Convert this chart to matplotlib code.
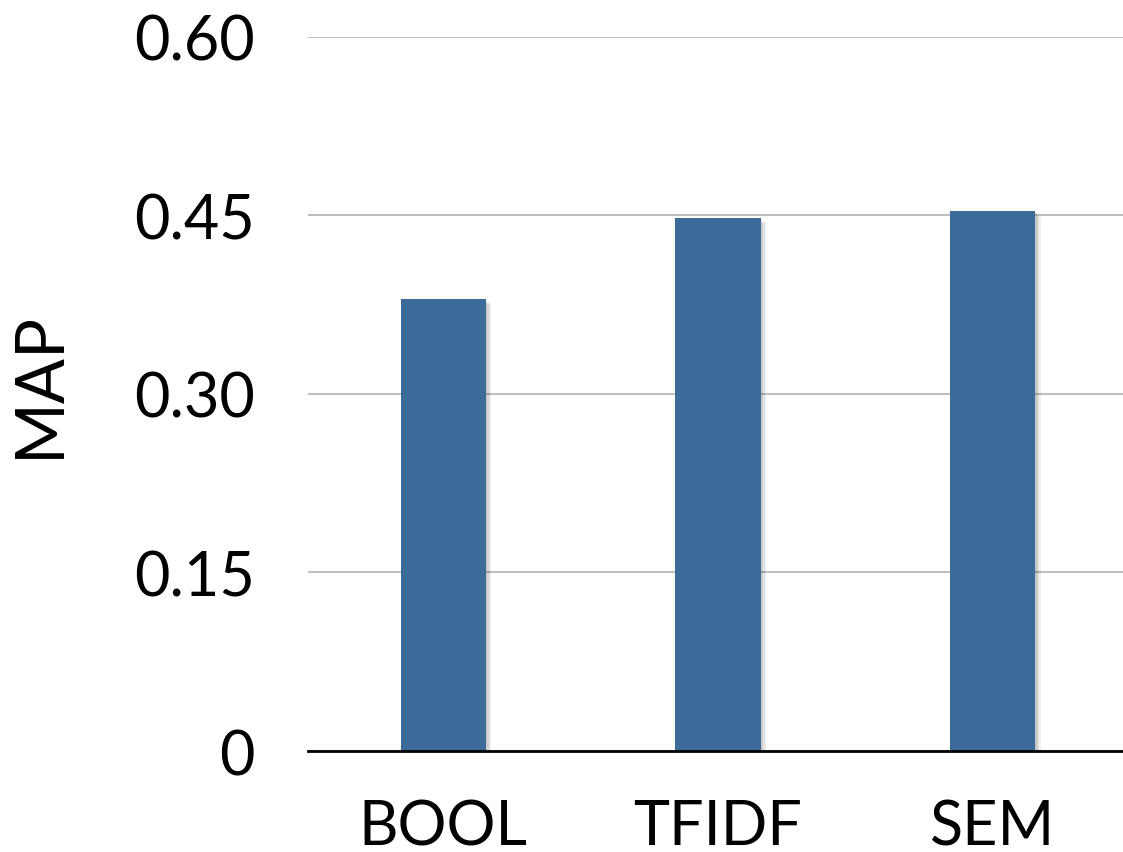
import numpy as np
import matplotlib
matplotlib.use("Agg")
from matplotlib import pyplot as plt
import matplotlib.patheffects as pe

categories = ["BOOL", "TFIDF", "SEM"]
map_values = [0.380, 0.448, 0.454]
yticks = [0, 0.15, 0.30, 0.45, 0.60]
ytick_labels = ["0", "0.15", "0.30", "0.45", "0.60"]

plt.rcParams['font.family'] = ['Lato', 'DejaVu Sans']

fig = plt.figure(figsize=(11.23, 8.53), dpi=100)
ax = fig.add_axes([0.274, 0.1184, 0.726, 0.8371])

x = np.arange(len(categories))
# soft shadow: a few stacked offset shadows
shadow = [pe.SimplePatchShadow(offset=(d, -d), shadow_rgbFace='black', alpha=0.06) for d in (1, 2, 3, 4)]
ax.bar(x, map_values, width=0.31, color='#3C6A99', zorder=3,
       path_effects=shadow + [pe.Normal()])

ax.set_ylim(0, 0.60)
ax.set_xlim(-0.494, 2.475)
ax.set_yticks(yticks)
ax.set_yticklabels(ytick_labels)
ax.set_xticks(x)
ax.set_xticklabels(categories)
ax.tick_params(axis='y', length=0, pad=38, labelsize=44)
ax.tick_params(axis='x', length=0, pad=34, labelsize=44)

ax.yaxis.grid(True, color='#bfbfbf', lw=1.5, zorder=0)
ax.set_axisbelow(True)
for s in ['top', 'right', 'left']:
    ax.spines[s].set_visible(False)
ax.spines['bottom'].set_linewidth(2)
ax.spines['bottom'].set_zorder(4)

ax.set_ylabel("MAP", fontsize=48)
ax.yaxis.set_label_coords(-0.29, 0.514)

plt.savefig("out.png", dpi=100)
